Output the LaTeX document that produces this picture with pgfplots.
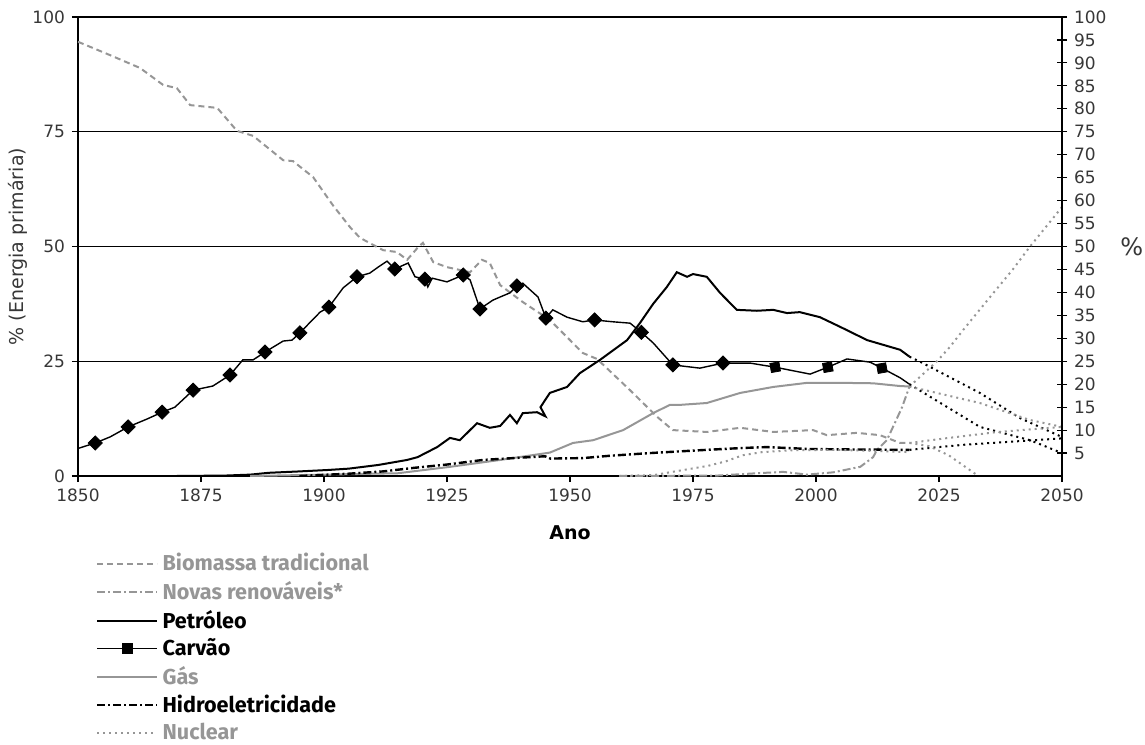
\documentclass[border=0pt]{standalone}
\usepackage{fontspec}
\setmainfont{DejaVu Sans}
\newfontfamily\legfont{Fira Sans}
\usepackage{pgfplots}
\pgfplotsset{compat=1.18}
\definecolor{lgray}{RGB}{150,150,150}
\definecolor{tgray}{RGB}{55,55,55}

\begin{document}
\begin{tikzpicture}
\path[use as bounding box] (-39pt,-134pt) rectangle (533.5pt,238pt);
\begin{axis}[
  at={(0,0)}, anchor=south west,
  scale only axis, width=492pt, height=229.5pt,
  xmin=1850, xmax=2050, ymin=0, ymax=100,
  xtick={1850,1875,...,2050}, ytick={0,25,50,75,100},
  ymajorgrids, grid style={black, line width=0.7pt},
  axis line style={black, line width=0.7pt},
  tick style={black, line width=0.6pt},
  tick align=outside, tick pos=left, major tick length=3pt,
  ticklabel style={font=\fontsize{8.5}{10}\selectfont, text=tgray},
  /pgf/number format/1000 sep={}, /pgf/number format/assume math mode=true,
  xlabel={\bfseries Ano}, xlabel style={font=\fontsize{9.5}{11}\selectfont, yshift=-5pt},
  ylabel={\% (Energia primária)},
  ylabel style={at={(axis description cs:-0.061,0.5)}, anchor=center,
    font=\fontsize{9.5}{11}\selectfont, text=tgray},
  legend cell align=left,
  legend style={at={(0.012,-0.15)}, anchor=north west, draw=none, fill=none,
    font=\legfont\bfseries\fontsize{10.8}{12}\selectfont, row sep=-0.2pt},
  legend image code/.code={\draw[#1] (0pt,0pt) -- (30pt,0pt);},
]
% Biomassa tradicional
\addplot[lgray, line width=1pt, dash pattern=on 3pt off 2pt] coordinates {
(1850,94.6) (1856.5,91.7) (1862.6,88.9) (1867.3,85.2) (1870.1,84.5) (1872.8,80.8)
(1878.3,80.2) (1882.3,75.2) (1885.6,74.1) (1891.7,68.8) (1893.7,68.6) (1897.8,65.1)
(1901.8,59.0) (1905.3,54.2) (1907.3,51.9) (1912,49.2) (1914.8,48.8) (1916.9,47.1)
(1919,49.7) (1920.1,50.8) (1922.2,46.6) (1925,45.5) (1929.7,44.4) (1932.1,47.1)
(1933.7,46.4) (1935.8,41.6) (1940.4,37.9) (1945.9,34.0) (1952.6,26.8) (1955.5,25.5)
(1962.2,18.7) (1967.7,12.9) (1970.9,10.0) (1977.8,9.6) (1984.6,10.5) (1991.3,9.6)
(1999.4,10.0) (2002.2,8.9) (2008.3,9.4) (2013,8.9) (2017.1,7.2) (2019,7.2)};
\addlegendentry{\textcolor{lgray}{Biomassa tradicional}}
% Novas renovaveis
\addplot[lgray, line width=1pt, dash pattern=on 4pt off 1.5pt on 1pt off 1.5pt] coordinates {
(1960,0) (1980,0.1) (1988,0.6) (1993.3,0.9) (1998.2,0.3) (2003.5,0.8) (2009,2.0)
(2011.6,4.1) (2012.4,5.7) (2014.4,7.8) (2016,11.5) (2017.5,15) (2019,19.5)};
\addlegendentry{\textcolor{lgray}{Novas renováveis*}}
% Petroleo
\addplot[black, line width=1pt] coordinates {
(1860,0) (1870,0) (1880,0.1) (1885,0.3) (1888.8,0.7) (1895,1.0) (1900.6,1.3) (1905,1.6)
(1911,2.4) (1916.9,3.5) (1919,4.1) (1923,6.3) (1925.6,8.3) (1927.6,7.8) (1931.1,11.5)
(1933.7,10.5) (1935.8,10.9) (1937.8,13.3) (1939.2,11.5) (1940.4,13.7) (1943.3,13.9)
(1945,13.0) (1944,15.0) (1945.9,18.1) (1949.4,19.4) (1952,22.4) (1956.1,25.3)
(1961.6,29.6) (1964.2,33.3) (1966.9,37.5) (1969.7,41.2) (1971.7,44.4) (1973.8,43.4)
(1975,44) (1977.8,43.4) (1980.5,39.9) (1983.9,36.2) (1988,36) (1991.3,36.2)
(1994.1,35.5) (1996.7,35.7) (2000.8,34.6) (2004.9,32.5) (2010.4,29.6) (2017.1,27.5) (2019,26)};
\addlegendentry{Petróleo}
% Carvao
\addplot[black, line width=0.7pt, legend image code/.code={
  \draw[black, line width=0.7pt] (0pt,0pt) -- (30pt,0pt);
  \fill[black] (12.5pt,-2.5pt) rectangle (17.5pt,2.5pt);}] coordinates {
(1850,6.0) (1853.5,7.2) (1856.5,8.5) (1860.2,10.7) (1864,12.4) (1867.1,13.9) (1869.7,15.0)
(1873.4,18.7) (1877.4,19.6) (1880.9,22.0) (1883.5,25.3) (1885.6,25.3) (1888,27.0)
(1891.7,29.4) (1893.5,29.6) (1895.1,31.2) (1899.2,35.7) (1901,36.8) (1903.9,41.0)
(1906.7,43.4) (1909.3,44.2) (1911,45.5) (1912.8,46.8) (1914.4,45.1) (1917.1,46.4)
(1918.5,43.4) (1920.5,42.9) (1921.1,41.2) (1922,43.1) (1925,42.3) (1928.3,43.8)
(1929.7,42.7) (1931.7,36.4) (1934.3,38.3) (1935.8,39) (1937.8,39.9) (1939.2,41.4)
(1940.4,42) (1943.5,39) (1945.1,34.4) (1946.5,36.2) (1949.4,34.6) (1952.6,33.6)
(1954.9,34) (1958.7,33.6) (1962.2,33.3) (1964.4,31.4) (1966.9,29) (1970.9,24.2)
(1976.4,23.5) (1981.1,24.6) (1986.6,24.6) (1991.7,23.7) (1998.8,22.2) (2002.4,23.7)
(2006.3,25.5) (2011,24.8) (2013.4,23.5) (2017.1,21.4) (2019,20)};
\addlegendentry{Carvão}
\addplot[only marks, mark=square*, mark size=2.5pt, mark options={rotate=45, black}, forget plot] coordinates {
(1853.5,7.2) (1860.2,10.7) (1867.1,13.9) (1873.4,18.7) (1880.9,22.0) (1888,27.0)
(1895.1,31.2) (1901,36.8) (1906.7,43.4) (1914.4,45.1) (1920.5,42.9) (1928.3,43.8)
(1931.7,36.4) (1939.2,41.4) (1945.1,34.4) (1955,34.0) (1964.5,31.3) (1970.9,24.2) (1981.1,24.6)};
\addplot[only marks, mark=square*, mark size=2.3pt, mark options={rotate=10, black}, forget plot] coordinates {
(1991.7,23.7) (2002.4,23.7) (2013.4,23.5)};
% Gas
\addplot[lgray, line width=1pt] coordinates {
(1885,0) (1900,0.3) (1915,0.6) (1925.6,2) (1935.8,3.5) (1945.9,5.1) (1950.6,7.2)
(1954.7,7.8) (1960.8,10) (1966.9,13.7) (1970.3,15.5) (1972.4,15.5) (1977.8,15.9)
(1984.6,18.1) (1991.3,19.4) (1998.2,20.3) (2004.9,20.3) (2011.6,20.2) (2017.1,19.6) (2019,19.5)};
\addlegendentry{\textcolor{lgray}{Gás}}
% Hidroeletricidade
\addplot[black, line width=1.2pt, dash pattern=on 4pt off 1.5pt on 1pt off 1.5pt] coordinates {
(1895,0) (1905,0.5) (1912,1.0) (1918.5,1.8) (1925,2.5) (1932.3,3.5) (1940,4.0) (1944.9,4.3)
(1946,3.8) (1952.6,3.9) (1958,4.4) (1966.3,5.0) (1977.8,5.7) (1985,6.1) (1990,6.3)
(1998.2,5.9) (2005,5.8) (2017,5.7) (2019,5.7)};
\addlegendentry{Hidroeletricidade}
% Nuclear
\addplot[lgray, line width=1pt, dotted] coordinates {
(1960,0) (1967,0.2) (1973,1.3) (1978,2.2) (1981.7,3.2) (1985,4.5) (1989,5.2) (1995,5.6)
(2004,5.7) (2011,5.5) (2019,5.2)};
\addlegendentry{\textcolor{lgray}{Nuclear}}
% Projeccoes
\addplot[lgray, line width=1pt, dotted, forget plot] coordinates {
(2019,19.5) (2024.6,25) (2027.2,28.1) (2029.9,31.8) (2035,38.5) (2040,45) (2043.5,50) (2050,58.6)};
\addplot[black, line width=1pt, dotted, forget plot] coordinates {
(2019,26) (2021.7,24.6) (2033.3,18.1) (2041.5,12.6) (2050,8.5)};
\addplot[black, line width=1pt, dotted, forget plot] coordinates {
(2019,20) (2033.3,10.7) (2043.5,7.8) (2050,5)};
\addplot[lgray, line width=1pt, dotted, forget plot] coordinates {
(2019,19.5) (2033.3,15.9) (2043.5,12.2) (2050,10.7)};
\addplot[black, line width=1pt, dotted, forget plot] coordinates {
(2019,5.7) (2030,6.8) (2040,7.5) (2050,8.2)};
\addplot[lgray, line width=1pt, dotted, forget plot] coordinates {
(2019,7.2) (2027,8.3) (2037,9.6) (2050,10.7)};
\addplot[lgray, line width=1pt, dotted, forget plot] coordinates {
(2019,7.2) (2023,6.5) (2027,4.5) (2033,0)};
\end{axis}
\begin{axis}[
  at={(0,0)}, anchor=south west,
  scale only axis, width=492pt, height=229.5pt,
  xmin=1850, xmax=2050, ymin=0, ymax=100,
  axis x line=none, axis y line*=right,
  ytick={5,10,...,100}, tick align=center, major tick length=5pt,
  axis line style={black, line width=0.7pt, -},
  tick style={black, line width=0.6pt},
  yticklabel style={font=\fontsize{8.5}{10}\selectfont, text=tgray},
  /pgf/number format/assume math mode=true,
  ylabel={\%}, ylabel style={rotate=-90, font=\fontsize{12}{14}\selectfont, text=tgray},
]
\end{axis}
\end{tikzpicture}
\end{document}
